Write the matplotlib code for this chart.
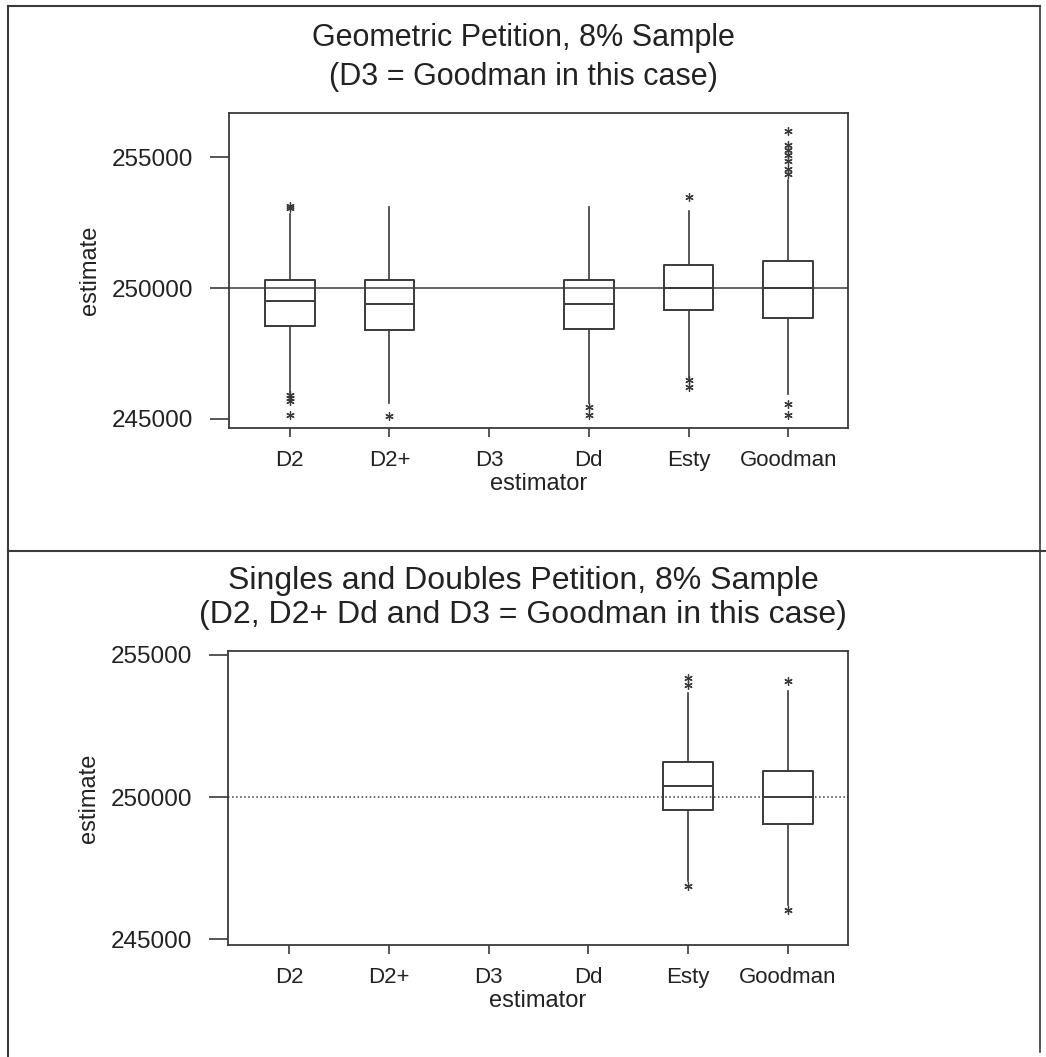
import matplotlib
matplotlib.use("Agg")
from matplotlib import pyplot as plt
from matplotlib.lines import Line2D

plt.rcParams['font.family'] = ['Liberation Sans', 'DejaVu Sans']

estimators = ['D2', 'D2+', 'D3', 'Dd', 'Esty', 'Goodman']
trueValue = 250000

# Geometric petition (top) - D3 has no box
geoNames = ['D2', 'D2+', 'Dd', 'Esty', 'Goodman']
geoQ1 = [248550, 248410, 248424, 249149, 248843]
geoMedian = [249504, 249378, 249401, 250000, 250000]
geoQ3 = [250294, 250294, 250294, 250878, 251019]
geoLow = [245992, 245622, 245622, 246576, 245943]
geoHigh = [252825, 253092, 253118, 252965, 254149]
geoOutliers = [
    [253050, 253120, 245916, 245801, 245687, 245153],
    [245115],
    [245458, 245153],
    [253473, 246488, 246221],
    [255993, 255485, 255294, 255077, 254848, 254569, 254363, 245584, 245141],
]

# Singles and doubles petition (bottom) - only Esty and Goodman
sdNames = ['Esty', 'Goodman']
sdQ1 = [249542, 249039]
sdMedian = [250387, 250000]
sdQ3 = [251246, 250915]
sdLow = [247042, 246222]
sdHigh = [253676, 253732]
sdOutliers = [
    [254190, 253933, 246891],
    [254084, 246046],
]

ink = '#3a3a3a'


def makeStats(names, q1, med, q3, lo, hi, out):
    stats = []
    for i in range(len(names)):
        stats.append({'q1': q1[i], 'med': med[i], 'q3': q3[i],
                      'whislo': lo[i], 'whishi': hi[i], 'fliers': out[i]})
    return stats


def drawPanel(ax, names, stats, ylims, refStyle):
    positions = [estimators.index(n) + 1 for n in names]
    ax.axhline(trueValue, color=ink, linewidth=1.1, linestyle=refStyle, zorder=1)
    ax.bxp(stats, positions=positions, widths=0.5, showcaps=False,
           boxprops=dict(color=ink, linewidth=1.4),
           medianprops=dict(color=ink, linewidth=1.4),
           whiskerprops=dict(color=ink, linewidth=1.2),
           flierprops=dict(marker=(6, 2, 0), markersize=6, markeredgecolor=ink,
                           markeredgewidth=0.9, linestyle='none'))
    ax.set_xlim(0.39, 6.6)
    ax.set_ylim(ylims)
    ax.set_xticks(range(1, len(estimators) + 1))
    ax.set_xticklabels(estimators)
    ax.set_yticks([245000, 250000, 255000])
    ax.set_yticklabels(['245000', '250000', '255000'])
    ax.tick_params(axis='y', length=13.5, width=1.2, color=ink, labelsize=17.5, pad=12, labelcolor='#222222')
    ax.tick_params(axis='x', length=6.5, width=1.2, color=ink, labelsize=16, pad=9, labelcolor='#222222')
    ax.set_xlabel('estimator', fontsize=17, color='#222222', labelpad=2)
    ax.set_ylabel('estimate', fontsize=17, color='#222222', labelpad=8)
    for s in ax.spines.values():
        s.set_color(ink)
        s.set_linewidth(1.3)


fig = plt.figure(figsize=(10.46, 10.57), dpi=100)

axTop = fig.add_axes([229 / 1046, 1 - 428 / 1057, 619 / 1046, 315 / 1057])
drawPanel(axTop, geoNames,
          makeStats(geoNames, geoQ1, geoMedian, geoQ3, geoLow, geoHigh, geoOutliers),
          (244654, 256692), '-')

axBottom = fig.add_axes([228 / 1046, 1 - 945 / 1057, 620 / 1046, 294.3 / 1057])
drawPanel(axBottom, sdNames,
          makeStats(sdNames, sdQ1, sdMedian, sdQ3, sdLow, sdHigh, sdOutliers),
          (244799, 255151), ':')

# titles
fig.text(0.5, 1 - 38 / 1057, 'Geometric Petition, 8% Sample', ha='center', va='center', fontsize=22, color='#222222')
fig.text(0.5, 1 - 77 / 1057, '(D3 = Goodman in this case)', ha='center', va='center', fontsize=22, color='#222222')
fig.text(0.5, 1 - 581 / 1057, 'Singles and Doubles Petition, 8% Sample', ha='center', va='center', fontsize=23, color='#222222')
fig.text(0.5, 1 - 615 / 1057, '(D2, D2+ Dd and D3 = Goodman in this case)', ha='center', va='center', fontsize=23, color='#222222')

# outer frame and divider
fig.add_artist(Line2D([8 / 1046, 1040 / 1046], [1 - 6 / 1057, 1 - 6 / 1057], color=ink, linewidth=1.5))
fig.add_artist(Line2D([8 / 1046, 8 / 1046], [0, 1 - 6 / 1057], color=ink, linewidth=1.5))
fig.add_artist(Line2D([1040 / 1046, 1040 / 1046], [0.005, 1 - 6 / 1057], color=ink, linewidth=1.2))
fig.add_artist(Line2D([8 / 1046, 1046 / 1046], [1 - 551 / 1057, 1 - 551 / 1057], color=ink, linewidth=1.5))

fig.savefig('out.png', dpi=100)
